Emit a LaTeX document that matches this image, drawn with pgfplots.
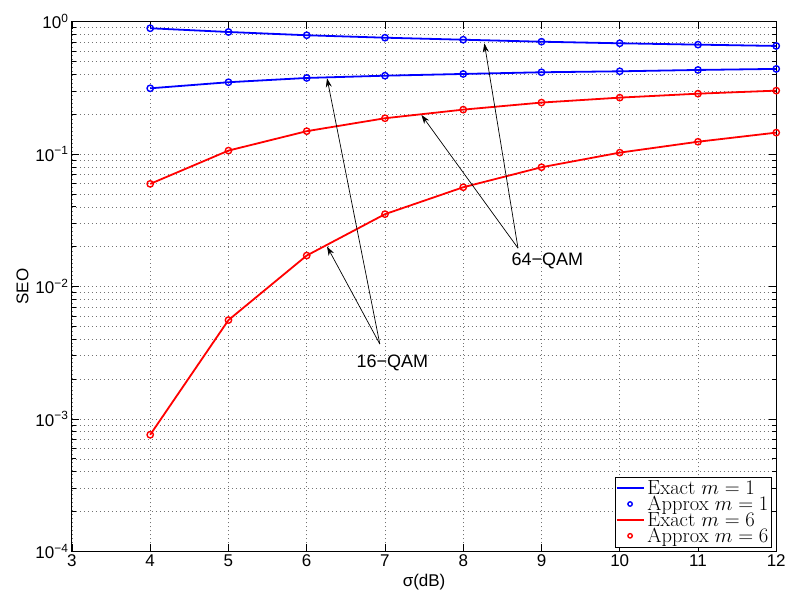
\documentclass[border=0pt]{standalone}
\usepackage{pgfplots}
\pgfplotsset{compat=1.18}
\usepackage{fontspec}
\newfontfamily\helv{Liberation Sans}
\usetikzlibrary{arrows.meta}
\definecolor{mblue}{RGB}{0,0,255}
\definecolor{mred}{RGB}{255,0,0}
\pgfplotsset{
  linelegblue/.style={legend image code/.code={\draw[draw=mblue, line width=1.8bp] (0bp,0bp)--(27bp,0bp);}},
  linelegred/.style={legend image code/.code={\draw[draw=mred, line width=1.8bp] (0bp,0bp)--(27bp,0bp);}},
  markleg/.style={legend image code/.code={\draw[##1, mark size=2.2bp] plot coordinates {(13.5bp,0bp)};}},
}
\begin{document}
\begin{tikzpicture}[x=1bp,y=1bp]
\path (-72bp,-45.3bp) rectangle (717bp,551.7bp);
\begin{axis}[
  at={(0,0)}, anchor=south west,
  width=704.7bp, height=530bp, scale only axis,
  xmin=3, xmax=12, ymin=1e-4, ymax=1, ymode=log,
  xtick={3,4,5,6,7,8,9,10,11,12},
  xticklabels={3,4,5,6,7,8,9,10,11,12},
  ytick={1e-4,1e-3,1e-2,1e-1,1},
  yticklabels={10\textsuperscript{−4},10\textsuperscript{−3},10\textsuperscript{−2},10\textsuperscript{−1},10\textsuperscript{0}},
  minor ytick={2e-4,3e-4,4e-4,5e-4,6e-4,7e-4,8e-4,9e-4,
               2e-3,3e-3,4e-3,5e-3,6e-3,7e-3,8e-3,9e-3,
               2e-2,3e-2,4e-2,5e-2,6e-2,7e-2,8e-2,9e-2,
               0.2,0.3,0.4,0.5,0.6,0.7,0.8,0.9},
  grid=both,
  major grid style={dash pattern=on 1bp off 3bp, black!55, line width=0.6bp},
  minor grid style={dash pattern=on 1bp off 3bp, black!55, line width=0.6bp},
  tick align=inside, tick pos=both,
  major tick length=7bp, minor tick length=4bp,
  every tick/.style={black, line width=0.7bp},
  axis line style={line width=1bp, black},
  tick label style={font=\helv\fontsize{17bp}{20bp}\selectfont},
  label style={font=\helv\fontsize{17bp}{20bp}\selectfont},
  xlabel={σ(dB)}, ylabel={SEO},
  legend style={at={(rel axis cs:1,0)}, anchor=south east, xshift=-4.7bp, yshift=4.4bp,
    draw=black, fill=white,
    font=\fontsize{20.5bp}{20.5bp}\selectfont, inner sep=1bp, row sep=-3.8bp,
    column sep=1bp,
    cells={anchor=west}},
  legend cell align=left,
]
\addplot[mblue, line width=1.8bp, no marks, linelegblue]
  coordinates {(4,0.892) (5,0.836) (6,0.790) (7,0.757) (8,0.731) (9,0.706) (10,0.687) (11,0.671) (12,0.656)};
\addlegendentry{Exact $m=1$}
\addplot[mblue, only marks, mark=o, mark size=3.2bp, mark options={line width=1.4bp}, markleg]
  coordinates {(4,0.892) (5,0.836) (6,0.790) (7,0.757) (8,0.731) (9,0.706) (10,0.687) (11,0.671) (12,0.656)};
\addlegendentry{Approx $m=1$}
\addplot[mred, line width=1.8bp, no marks, linelegred]
  coordinates {(4,0.0596) (5,0.1063) (6,0.149) (7,0.1866) (8,0.2167) (9,0.245) (10,0.267) (11,0.286) (12,0.3015)};
\addlegendentry{Exact $m=6$}
\addplot[mred, only marks, mark=o, mark size=3.2bp, mark options={line width=1.4bp}, markleg]
  coordinates {(4,0.0596) (5,0.1063) (6,0.149) (7,0.1866) (8,0.2167) (9,0.245) (10,0.267) (11,0.286) (12,0.3015)};
\addlegendentry{Approx $m=6$}
% second pair (no legend)
\addplot[mblue, line width=1.8bp, no marks, forget plot]
  coordinates {(4,0.314) (5,0.349) (6,0.376) (7,0.391) (8,0.403) (9,0.415) (10,0.422) (11,0.432) (12,0.440)};
\addplot[mblue, only marks, mark=o, mark size=3.2bp, mark options={line width=1.4bp}, forget plot]
  coordinates {(4,0.314) (5,0.349) (6,0.376) (7,0.391) (8,0.403) (9,0.415) (10,0.422) (11,0.432) (12,0.440)};
\addplot[mred, line width=1.8bp, no marks, forget plot]
  coordinates {(4,0.00076) (5,0.00558) (6,0.01714) (7,0.0352) (8,0.0562) (9,0.0796) (10,0.1026) (11,0.124) (12,0.1453)};
\addplot[mred, only marks, mark=o, mark size=3.2bp, mark options={line width=1.4bp}, forget plot]
  coordinates {(4,0.00076) (5,0.00558) (6,0.01714) (7,0.0352) (8,0.0562) (9,0.0796) (10,0.1026) (11,0.124) (12,0.1453)};
% annotations
\draw[-{Stealth[length=9bp,width=6bp]}, line width=0.7bp] (axis cs:8.70,0.0195) -- (axis cs:8.27,0.687);
\draw[-{Stealth[length=9bp,width=6bp]}, line width=0.7bp] (axis cs:8.70,0.0195) -- (axis cs:7.466,0.1977);
\draw[-{Stealth[length=9bp,width=6bp]}, line width=0.7bp] (axis cs:6.934,0.00368) -- (axis cs:6.26,0.374);
\draw[-{Stealth[length=9bp,width=6bp]}, line width=0.7bp] (axis cs:6.934,0.00368) -- (axis cs:6.26,0.02004);
\node[anchor=north west, inner sep=0pt, font=\helv\fontsize{18bp}{20bp}\selectfont] at (axis cs:8.616,0.01796) {64−QAM};
\node[anchor=north west, inner sep=0pt, font=\helv\fontsize{18bp}{20bp}\selectfont] at (axis cs:6.636,0.003051) {16−QAM};
\end{axis}
\end{tikzpicture}
\end{document}
